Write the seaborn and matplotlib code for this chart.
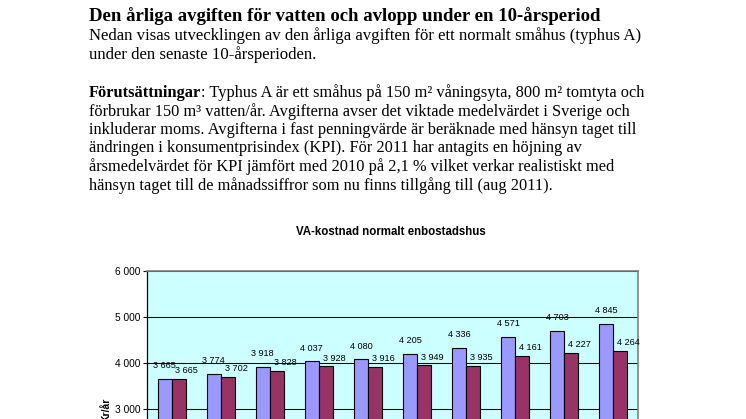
import matplotlib
matplotlib.use("Agg")
import matplotlib.pyplot as plt
import seaborn as sns
import pandas as pd

# ---- data ----
years = ["2002", "2003", "2004", "2005", "2006", "2007", "2008", "2009", "2010", "2011"]
series_names = ["Löpande priser", "Fast penningvärde"]
current_prices = [3665, 3774, 3918, 4037, 4080, 4205, 4336, 4571, 4703, 4845]
fixed_prices = [3665, 3702, 3828, 3928, 3916, 3949, 3935, 4161, 4227, 4264]
yticks = [0, 1000, 2000, 3000, 4000, 5000, 6000]

chart_title = "VA-kostnad normalt enbostadshus"
y_label = "Kr/år"
doc_title = "Den årliga avgiften för vatten och avlopp under en 10-årsperiod"
intro_lines = [
    "Nedan visas utvecklingen av den årliga avgiften för ett normalt småhus (typhus A)",
    "under den senaste 10-årsperioden.",
]
para_bold = "Förutsättningar"
para_lines = [
    ": Typhus A är ett småhus på 150 m² våningsyta, 800 m² tomtyta och",
    "förbrukar 150 m³ vatten/år. Avgifterna avser det viktade medelvärdet i Sverige och",
    "inkluderar moms. Avgifterna i fast penningvärde är beräknade med hänsyn taget till",
    "ändringen i konsumentprisindex (KPI). För 2011 har antagits en höjning av",
    "årsmedelvärdet för KPI jämfört med 2010 på 2,1 % vilket verkar realistiskt med",
    "hänsyn taget till de månadssiffror som nu finns tillgång till (aug 2011).",
]

df = pd.DataFrame({
    "År": years * 2,
    "Serie": [series_names[0]] * len(years) + [series_names[1]] * len(years),
    "Kostnad": current_prices + fixed_prices,
})

W, H = 746, 419
fig = plt.figure(figsize=(W / 100, H / 100), dpi=100)
fig.patch.set_facecolor("white")
renderer = fig.canvas.get_renderer()

SERIF = "Liberation Serif"
SANS = "Liberation Sans"

def fy(px):
    return 1 - px / H

def fx(px):
    return px / W

def text_width(text, weight, size):
    t = fig.text(0, 0, text, fontsize=size, family=SERIF, weight=weight)
    w = t.get_window_extent(renderer).width
    t.remove()
    return w

def fit_size(text, weight, target_px, start=12.0):
    return start * target_px / text_width(text, weight, start)

left_px = 89
title_size = fit_size(doc_title, "bold", 597 - left_px)
body_size = fit_size(intro_lines[0], "normal", 639 - left_px)
# paragraph: first line (bold part + rest) should end near x=642
w_all = text_width(para_bold, "bold", 12.0) + text_width(para_lines[0], "normal", 12.0)
para_size = 12.0 * (642 - left_px) / w_all

fig.text(fx(left_px), fy(21), doc_title, fontsize=title_size, family=SERIF,
         weight="bold", va="baseline")
for i, line in enumerate(intro_lines):
    fig.text(fx(left_px), fy(40 + 19 * i), line, fontsize=body_size, family=SERIF,
             va="baseline")

para_base = 97
step = 18.5
tb = fig.text(fx(left_px), fy(para_base), para_bold, fontsize=para_size, family=SERIF,
              weight="bold", va="baseline")
bw = tb.get_window_extent(renderer).width
fig.text(fx(left_px + bw), fy(para_base), para_lines[0], fontsize=para_size,
         family=SERIF, va="baseline")
for i, line in enumerate(para_lines[1:], start=1):
    fig.text(fx(left_px), fy(para_base + step * i), line, fontsize=para_size,
             family=SERIF, va="baseline")

# chart title
fig.text(fx(391), fy(232), chart_title, fontsize=8.3, family=SANS, weight="bold",
         ha="center", va="center")

# ---- chart axes (extends below the visible page) ----
ax_left, ax_right = 147, 638
ax_top, ax_bottom = 270.7, 548
ax = fig.add_axes([fx(ax_left), fy(ax_bottom), fx(ax_right - ax_left),
                   (ax_bottom - ax_top) / H])

sns.barplot(data=df, x="År", y="Kostnad", hue="Serie",
            palette=["#9999FF", "#993366"], width=0.57, edgecolor="black",
            linewidth=0.8, saturation=1, ax=ax, legend=False)

ax.set_facecolor("#CCFFFF")
ax.set_xlim(-0.5, len(years) - 0.5)
ax.set_ylim(0, 6000)
ax.set_yticks(yticks)
ax.set_yticklabels([f"{v:,}".replace(",", " ") for v in yticks],
                   fontsize=7.3, family=SANS)
ax.tick_params(axis="y", length=3, width=0.8, pad=1.5, color="black")
ax.tick_params(axis="x", length=0, labelbottom=False)
ax.yaxis.grid(True, color="black", linewidth=0.75)
ax.xaxis.grid(False)
ax.set_axisbelow(True)
ax.set_xlabel("")
ax.set_ylabel(y_label, fontsize=7.5, family=SANS, weight="bold", labelpad=3)
for side in ["top", "right"]:
    ax.spines[side].set_color("#808080")
    ax.spines[side].set_linewidth(1.2)
ax.spines["left"].set_color("black")
ax.spines["left"].set_linewidth(0.9)

offsets = [(0, 9.5), (6, 6)]
for cont, (dx, dy) in zip(ax.containers, offsets):
    for bar in cont:
        h = bar.get_height()
        ax.annotate(f"{int(h):,}".replace(",", " "),
                    xy=(bar.get_x() + bar.get_width() / 2, h),
                    xytext=(dx, dy), textcoords="offset points",
                    ha="center", va="center", fontsize=6.6, family=SANS)

fig.savefig("out.png", dpi=100)
